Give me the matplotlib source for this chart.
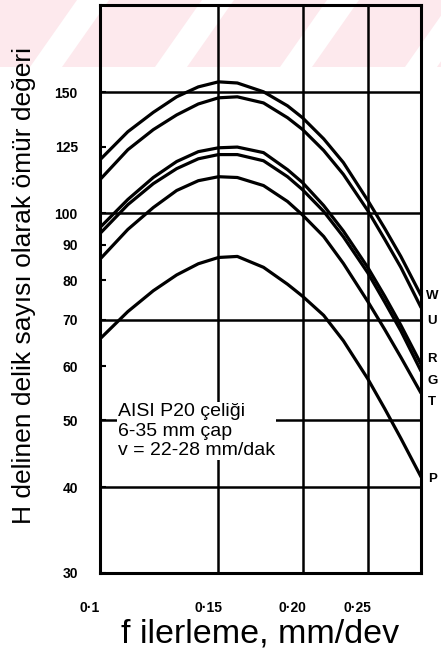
import matplotlib
matplotlib.use("Agg")
import matplotlib.pyplot as plt
from matplotlib.patches import Polygon, Rectangle
from matplotlib.ticker import NullLocator, FixedLocator, FixedFormatter
from matplotlib.transforms import ScaledTranslation

# feed rate f (mm/dev) and tool life (number of holes)
feed = [0.10, 0.11, 0.12, 0.13, 0.14, 0.15, 0.16, 0.175, 0.19, 0.20,
        0.215, 0.23, 0.25, 0.265, 0.28, 0.30]
life_W = [119.7, 131.5, 140.3, 147.8, 152.8, 155.4, 154.8, 150.3, 143.4, 137.8,
          128.4, 118.6, 104.5, 95.1, 86.6, 76.0]
life_U = [112.0, 123.8, 132.4, 139.1, 144.3, 147.3, 147.8, 144.8, 137.8, 132.5,
          123.5, 114.0, 101.0, 91.7, 83.5, 73.0]
life_R = [95.4, 104.8, 112.8, 119.0, 123.0, 124.6, 124.9, 122.6, 115.8, 110.9,
          102.7, 94.3, 83.5, 75.8, 68.8, 60.4]
life_G = [93.5, 103.0, 110.5, 116.2, 120.1, 121.8, 121.8, 119.3, 113.1, 108.3,
          100.7, 92.5, 82.0, 74.3, 67.5, 59.0]
life_T = [85.8, 94.8, 102.0, 108.0, 111.6, 113.1, 112.8, 109.8, 104.1, 99.5,
          92.6, 84.6, 74.5, 67.8, 61.8, 54.8]
life_P = [65.7, 72.0, 77.2, 81.4, 84.5, 86.3, 86.6, 83.5, 78.9, 75.8,
          71.1, 65.3, 57.5, 52.0, 47.1, 41.4]

curve_names = ["W", "U", "R", "G", "T", "P"]
name_y = [75.8, 69.7, 61.4, 57.1, 53.2, 41.1]

yticks = [30, 40, 50, 60, 70, 80, 90, 100, 125, 150]
xticks = [0.10, 0.15, 0.20, 0.25]
xtick_labels = ["0·1", "0·15", "0·20", "0·25"]
hgrid = [40, 50, 70, 100, 150]
vgrid = [0.15, 0.20, 0.25]

plt.rcParams["font.family"] = ["Liberation Sans", "DejaVu Sans"]

fig = plt.figure(figsize=(4.41, 6.57), dpi=100)

# pink striped band at the top of the scan (background)
bg = fig.add_axes([0, 0, 1, 1], zorder=-1)
bg.set_xlim(0, 441)
bg.set_ylim(657, 0)
bg.axis("off")
bg.add_patch(Rectangle((0, 0), 441, 67, color="#fde9ed", lw=0))
for x0 in range(30, 520, 125):
    bg.add_patch(Polygon([(x0, 67), (x0 + 32, 67), (x0 + 79, 0), (x0 + 47, 0)],
                         closed=True, color="white", lw=0))

ax = fig.add_axes([100 / 441, 1 - 573 / 657, 321 / 441, 568 / 657])
ax.set_facecolor("none")
ax.set_xscale("log")
ax.set_yscale("log")
ax.set_xlim(0.1, 0.3)
ax.set_ylim(30, 201)

for v in hgrid:
    ax.axhline(v, color="black", lw=1.8, zorder=1)
for v in vgrid:
    ax.axvline(v, color="black", lw=1.8, zorder=1)

for ys in [life_W, life_U, life_R, life_G, life_T, life_P]:
    ax.plot(feed, ys, color="black", lw=2.3, solid_capstyle="round",
            solid_joinstyle="round", zorder=3)

for name, yv in zip(curve_names, name_y):
    ax.text(1.035, yv, name, transform=ax.get_yaxis_transform(),
            ha="center", va="center", fontsize=9.5, fontweight="bold")

ax.text(0.056, 0.25, "AISI P20 çeliği\n6-35 mm çap\nv = 22-28 mm/dak",
        transform=ax.transAxes, ha="left", va="center", fontsize=14,
        linespacing=1.2, zorder=4,
        bbox=dict(facecolor="white", edgecolor="none", pad=1))

for s in ax.spines.values():
    s.set_linewidth(2.2)

ax.yaxis.set_major_locator(FixedLocator(yticks))
ax.yaxis.set_major_formatter(FixedFormatter([str(t) for t in yticks]))
ax.yaxis.set_minor_locator(NullLocator())
ax.xaxis.set_major_locator(FixedLocator(xticks))
ax.xaxis.set_major_formatter(FixedFormatter(xtick_labels))
ax.xaxis.set_minor_locator(NullLocator())
ax.tick_params(axis="y", direction="in", length=4, width=1.5, pad=16,
               labelsize=10)
ax.tick_params(axis="x", length=0, pad=20, labelsize=10)
for lab in ax.get_yticklabels() + ax.get_xticklabels():
    lab.set_fontweight("bold")
for lab in ax.get_xticklabels():
    lab.set_transform(lab.get_transform() + ScaledTranslation(-0.1, 0, fig.dpi_scale_trans))

ax.set_xlabel("f ilerleme, mm/dev", fontsize=24.5, labelpad=3)
fig.text(24 / 441, 1 - 286 / 657, "H delinen delik sayısı olarak ömür değeri",
         rotation=90, ha="center", va="center", fontsize=19)

fig.savefig("out.png", dpi=100)
